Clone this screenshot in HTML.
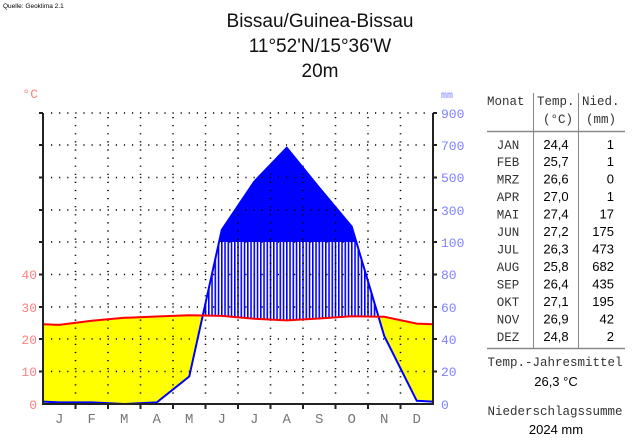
<!DOCTYPE html>
<html><head><meta charset="utf-8"><style>
html,body{margin:0;padding:0;background:#fff;width:640px;height:444px;overflow:hidden}
</style></head><body>
<svg width="640" height="444" viewBox="0 0 640 444" xmlns="http://www.w3.org/2000/svg">
<defs>
<pattern id="st" width="3.25" height="10" patternUnits="userSpaceOnUse">
<rect width="3.25" height="10" fill="#fff"/><rect x="0" width="1.6" height="10" fill="#0000ff"/>
</pattern>
<clipPath id="aboveT"><polygon points="43,324.3 59.25,324.9 91.75,320.7 124.25,317.8 156.75,316.5 189.25,315.2 221.75,315.9 254.25,318.8 286.75,320.4 319.25,318.5 351.75,316.2 384.25,316.8 416.75,323.6 433,324.3 433,100 43,100"/></clipPath>
<clipPath id="aboveP"><polygon points="43,401.6 59.25,402.4 91.75,402.4 124.25,404 156.75,402.4 189.25,376.5 221.75,229.9 254.25,181.6 286.75,147.7 319.25,187.7 351.75,226.6 384.25,336 416.75,400.8 433,401.6 433,100 43,100"/></clipPath>
<clipPath id="top100"><rect x="43" y="100" width="390" height="142"/></clipPath>
<clipPath id="bot100"><rect x="43" y="242" width="390" height="170"/></clipPath>
</defs>
<text x="3" y="8" font-family="Liberation Sans, sans-serif" font-size="6.5" fill="#000">Quelle: Geoklima 2.1</text>
<g font-family="Liberation Sans, sans-serif" font-size="19" text-anchor="middle" fill="#111">
<text x="320" y="27">Bissau/Guinea-Bissau</text>
<text x="320" y="52">11°52'N/15°36'W</text>
<text x="320" y="77">20m</text>
</g>
<polygon clip-path="url(#aboveP)" fill="#ffff00" points="43,324.3 59.25,324.9 91.75,320.7 124.25,317.8 156.75,316.5 189.25,315.2 221.75,315.9 254.25,318.8 286.75,320.4 319.25,318.5 351.75,316.2 384.25,316.8 416.75,323.6 433,324.3 433,404 43,404"/>
<g clip-path="url(#aboveT)"><polygon clip-path="url(#bot100)" fill="url(#st)" points="43,401.6 59.25,402.4 91.75,402.4 124.25,404 156.75,402.4 189.25,376.5 221.75,229.9 254.25,181.6 286.75,147.7 319.25,187.7 351.75,226.6 384.25,336 416.75,400.8 433,401.6 433,404 43,404"/></g>
<polygon clip-path="url(#top100)" fill="#0000ff" points="43,401.6 59.25,402.4 91.75,402.4 124.25,404 156.75,402.4 189.25,376.5 221.75,229.9 254.25,181.6 286.75,147.7 319.25,187.7 351.75,226.6 384.25,336 416.75,400.8 433,401.6 433,404 43,404"/>
<g stroke="#000" stroke-width="1.6" stroke-dasharray="1.2 6.9" fill="none">
<path d="M51,113H430M51,145H430M51,177.5H430M51,210H430M51,242H430M51,274.5H430M51,307H430M51,339H430M51,371.5H430"/>
<path d="M75.5,117V400M108,117V400M140.5,117V400M173,117V400M205.5,117V400M238,117V400M270.5,117V400M303,117V400M335.5,117V400M368,117V400M400.5,117V400"/>
</g>
<polyline fill="none" stroke="#0000ff" stroke-width="2" points="43,401.6 59.25,402.4 91.75,402.4 124.25,404 156.75,402.4 189.25,376.5 221.75,229.9 254.25,181.6 286.75,147.7 319.25,187.7 351.75,226.6 384.25,336 416.75,400.8 433,401.6"/>
<polyline fill="none" stroke="#ff0000" stroke-width="2" points="43,324.3 59.25,324.9 91.75,320.7 124.25,317.8 156.75,316.5 189.25,315.2 221.75,315.9 254.25,318.8 286.75,320.4 319.25,318.5 351.75,316.2 384.25,316.8 416.75,323.6 433,324.3"/>
<g stroke="#222" stroke-width="2" fill="none">
<path d="M43,113V404H433V113"/>
<path d="M39,113H43M39,145H43M39,177.5H43M39,210H43M39,242H43M39,274.5H43M39,307H43M39,339H43M39,371.5H43"/>
<path d="M433,113H437M433,145H437M433,177.5H437M433,210H437M433,242H437M433,274.5H437M433,307H437M433,339H437M433,371.5H437"/>
<path d="M75.5,404V409M108,404V409M140.5,404V409M173,404V409M205.5,404V409M238,404V409M270.5,404V409M303,404V409M335.5,404V409M368,404V409M400.5,404V409"/>
</g>
<g font-family="Liberation Mono, monospace" font-size="13" fill="#ff8080" text-anchor="end">
<text x="37" y="409">0</text><text x="37" y="376">10</text><text x="37" y="344">20</text><text x="37" y="312">30</text><text x="37" y="279">40</text>
<text x="38" y="98" font-size="13">°C</text>
</g>
<g font-family="Liberation Mono, monospace" font-size="13" fill="#8080ff">
<text x="441" y="409">0</text><text x="441" y="376">20</text><text x="441" y="344">40</text><text x="441" y="312">60</text><text x="441" y="279">80</text><text x="441" y="247">100</text><text x="441" y="215">300</text><text x="441" y="182">500</text><text x="441" y="150">700</text><text x="441" y="118">900</text>
<text x="441" y="98" font-size="10">mm</text>
</g>
<g font-family="Liberation Mono, monospace" font-size="14" fill="#777" text-anchor="middle">
<text x="59.25" y="423">J</text><text x="91.75" y="423">F</text><text x="124.25" y="423">M</text><text x="156.75" y="423">A</text><text x="189.25" y="423">M</text><text x="221.75" y="423">J</text><text x="254.25" y="423">J</text><text x="286.75" y="423">A</text><text x="319.25" y="423">S</text><text x="351.75" y="423">O</text><text x="384.25" y="423">N</text><text x="416.75" y="423">D</text>
</g>
<g stroke="#888" stroke-width="1">
<path d="M533.5,93V348M578.5,93V348"/>
<path d="M487,131.5H625M487,348.5H625" stroke-width="1.5"/>
</g>
<g font-family="Liberation Mono, monospace" font-size="12.5" fill="#333">
<text x="487" y="105">Monat</text>
<text x="537" y="105">Temp.</text><text x="582" y="105">Nied.</text>
<text x="543" y="123">(°C)</text><text x="586" y="123">(mm)</text>
<g text-anchor="middle">
<text x="508" y="149">JAN</text><text x="508" y="166">FEB</text><text x="508" y="183.5">MRZ</text><text x="508" y="201">APR</text><text x="508" y="218.5">MAI</text><text x="508" y="236">JUN</text><text x="508" y="253.5">JUL</text><text x="508" y="271">AUG</text><text x="508" y="288.5">SEP</text><text x="508" y="306">OKT</text><text x="508" y="323.5">NOV</text><text x="508" y="341">DEZ</text>
<text x="555" y="366">Temp.-Jahresmittel</text>
<text x="555" y="415">Niederschlagssumme</text>
</g>
</g>
<g font-family="Liberation Sans, sans-serif" font-size="13" fill="#000">
<g text-anchor="middle">
<text x="556" y="149">24,4</text><text x="556" y="166">25,7</text><text x="556" y="183.5">26,6</text><text x="556" y="201">27,0</text><text x="556" y="218.5">27,4</text><text x="556" y="236">27,2</text><text x="556" y="253.5">26,3</text><text x="556" y="271">25,8</text><text x="556" y="288.5">26,4</text><text x="556" y="306">27,1</text><text x="556" y="323.5">26,9</text><text x="556" y="341">24,8</text>
<text x="556" y="386">26,3 °C</text>
<text x="556" y="434">2024 mm</text>
</g>
<g text-anchor="end">
<text x="614" y="149">1</text><text x="614" y="166">1</text><text x="614" y="183.5">0</text><text x="614" y="201">1</text><text x="614" y="218.5">17</text><text x="614" y="236">175</text><text x="614" y="253.5">473</text><text x="614" y="271">682</text><text x="614" y="288.5">435</text><text x="614" y="306">195</text><text x="614" y="323.5">42</text><text x="614" y="341">2</text>
</g>
</g>
</svg>
</body></html>
